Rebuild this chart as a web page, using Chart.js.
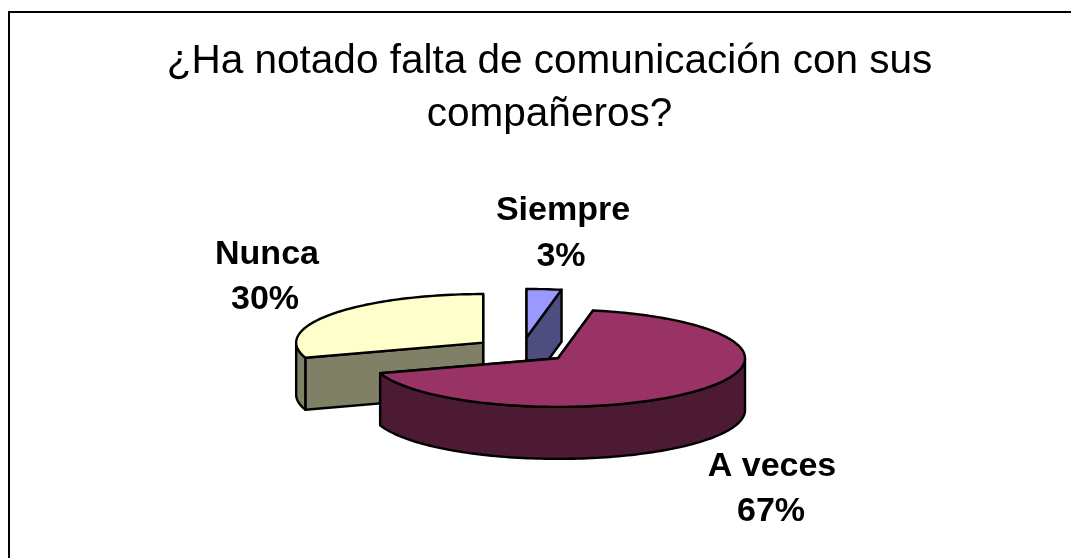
<!DOCTYPE html>
<html>
<head>
<meta charset="utf-8">
<style>
html,body{margin:0;padding:0;background:#fff;overflow:hidden}
#wrap{position:absolute;left:0;top:0;width:1071px;height:558px}
</style>
<script src="https://cdn.jsdelivr.net/npm/chart.js@4"></script>
</head>
<body>
<div id="wrap"><canvas id="c" width="1071" height="558"></canvas></div>
<script>
const titleLines = ['¿Ha notado falta de comunicación con sus', 'compañeros?'];
const categories = ['Siempre', 'A veces', 'Nunca'];
const values = [3, 67, 30];
const topColors = ['#9999FF', '#993366', '#FFFFCC'];
const wallColors = ['#4D4D80', '#4D1A33', '#808066'];
const paintOrder = [2, 0, 1];
const nameCenters = [[563, 211], [772, 467], [267, 255]];
const percentCenters = [[561, 257], [771, 512], [265, 300]];

const PIE_X = 522, PIE_Y = 350, TILT = 0.26, DEPTH = 52, EXPLODE = 48, RADIUS = 187;

function toScreen(arc, i, a) {
  const mid = (arc.startAngle + arc.endAngle) / 2;
  const ox = Math.cos(mid) * EXPLODE, oy = Math.sin(mid) * EXPLODE;
  return [PIE_X + ox + Math.cos(a) * arc.outerRadius, PIE_Y + (oy + Math.sin(a) * arc.outerRadius) * TILT];
}
function tip(arc) {
  const mid = (arc.startAngle + arc.endAngle) / 2;
  return [PIE_X + Math.cos(mid) * EXPLODE, PIE_Y + Math.sin(mid) * EXPLODE * TILT];
}
function poly(ctx, pts, fill) {
  ctx.beginPath();
  pts.forEach((p, k) => k ? ctx.lineTo(p[0], p[1]) : ctx.moveTo(p[0], p[1]));
  ctx.closePath();
  if (fill) { ctx.fillStyle = fill; ctx.fill(); }
  ctx.stroke();
}
function rimPoints(arc, i, a0, a1) {
  const n = Math.max(2, Math.ceil((a1 - a0) * 40)), pts = [];
  for (let k = 0; k <= n; k++) pts.push(toScreen(arc, i, a0 + (a1 - a0) * k / n));
  return pts;
}

const pie3d = {
  id: 'pie3d',
  beforeDatasetDraw() { return false; },
  afterDatasetsDraw(chart) {
    const ctx = chart.ctx, arcs = chart.getDatasetMeta(0).data;
    ctx.save();
    ctx.strokeStyle = '#000';
    ctx.lineWidth = 2.4;
    ctx.lineJoin = 'round';
    paintOrder.forEach(i => {
      const arc = arcs[i];
      const s = arc.startAngle, e = arc.endAngle;
      const t = tip(arc);
      // cut faces
      [s, e].forEach(a => {
        const r = toScreen(arc, i, a);
        poly(ctx, [t, r, [r[0], r[1] + DEPTH], [t[0], t[1] + DEPTH]], wallColors[i]);
      });
      // outer curved wall: the part of the rim facing the viewer
      const TWO = Math.PI * 2;
      for (let w = -1; w <= 1; w++) {
        const a0 = Math.max(s, w * TWO), a1 = Math.min(e, w * TWO + Math.PI);
        if (a1 > a0) {
          const rim = rimPoints(arc, i, a0, a1);
          const low = rim.slice().reverse().map(p => [p[0], p[1] + DEPTH]);
          poly(ctx, rim.concat(low), wallColors[i]);
        }
      }
      // top face: the library's own arc element, squashed into perspective
      ctx.save();
      const mid = (s + e) / 2;
      ctx.translate(PIE_X + Math.cos(mid) * EXPLODE, PIE_Y + Math.sin(mid) * EXPLODE * TILT);
      ctx.scale(1, TILT);
      ctx.translate(-arc.x, -arc.y);
      arc.draw(ctx);
      ctx.restore();
      // crisp outline of the top face
      const rim = rimPoints(arc, i, s, e);
      poly(ctx, [t].concat(rim), null);
    });
    // data labels
    const total = values.reduce((a, b) => a + b, 0);
    ctx.fillStyle = '#000';
    ctx.font = 'bold 34px "Liberation Sans", Arial, sans-serif';
    ctx.textAlign = 'center';
    ctx.textBaseline = 'middle';
    categories.forEach((name, i) => {
      ctx.fillText(name, nameCenters[i][0], nameCenters[i][1]);
      ctx.fillText(Math.round(values[i] / total * 100) + '%', percentCenters[i][0], percentCenters[i][1]);
    });
    ctx.restore();
  }
};
const frame = {
  id: 'frame',
  beforeDraw(chart) {
    const ctx = chart.ctx;
    ctx.save();
    ctx.strokeStyle = '#000';
    ctx.lineWidth = 2;
    ctx.beginPath();
    ctx.moveTo(9, 558);
    ctx.lineTo(9, 12);
    ctx.lineTo(1071, 12);
    ctx.stroke();
    ctx.restore();
  }
};

new Chart(document.getElementById('c'), {
  type: 'pie',
  data: {
    labels: categories,
    datasets: [{
      data: values,
      backgroundColor: topColors,
      borderWidth: 0,
      radius: RADIUS,
      clip: false
    }]
  },
  options: {
    responsive: false,
    animation: false,
    layout: { padding: { left: 28, top: 35 } },
    plugins: {
      legend: { display: false },
      tooltip: { enabled: false },
      title: {
        display: true,
        text: titleLines,
        color: '#000',
        font: { family: '"Liberation Sans", Arial, sans-serif', size: 40.5, weight: 'normal', lineHeight: 1.31 },
        padding: 0
      }
    }
  },
  plugins: [frame, pie3d]
});
</script>
</body>
</html>
